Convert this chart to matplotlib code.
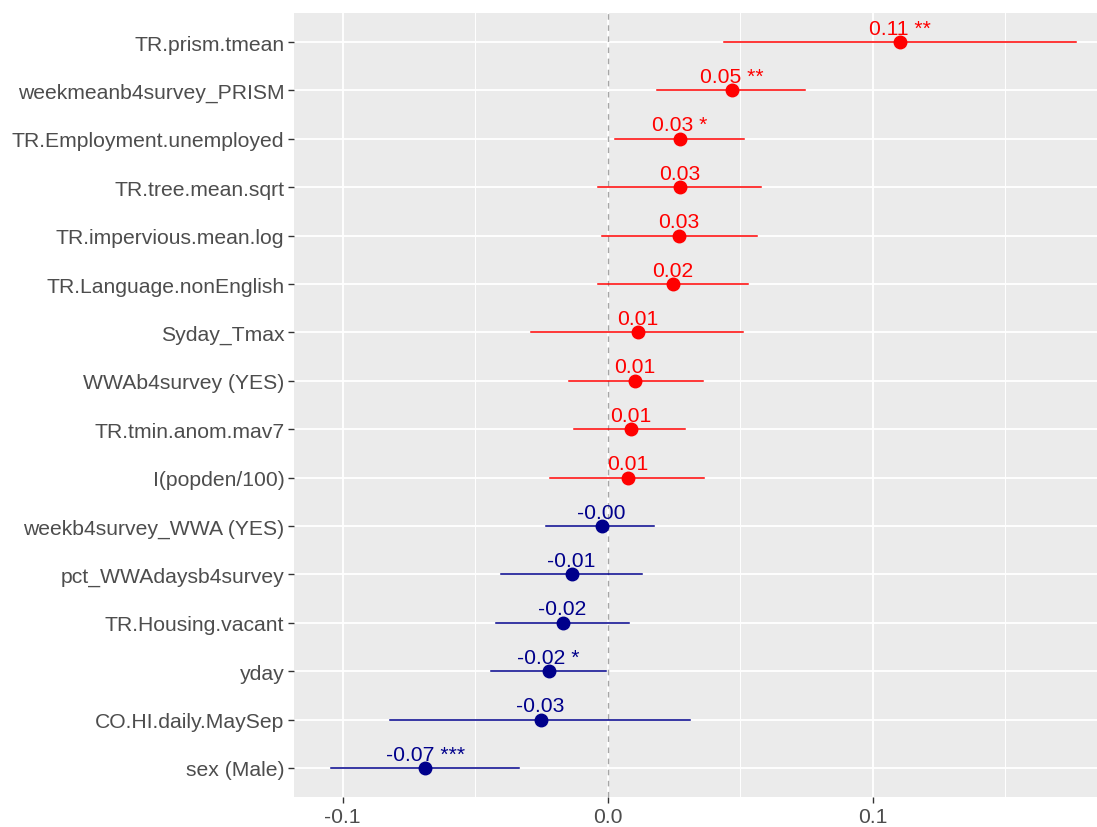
import numpy as np
import matplotlib.pyplot as plt
from matplotlib.ticker import MultipleLocator

plt.rcParams['font.family'] = ['Liberation Sans', 'DejaVu Sans']

# coefficient table, top row first
terms = ['TR.prism.tmean', 'weekmeanb4survey_PRISM', 'TR.Employment.unemployed',
         'TR.tree.mean.sqrt', 'TR.impervious.mean.log', 'TR.Language.nonEnglish',
         'Syday_Tmax', 'WWAb4survey (YES)', 'TR.tmin.anom.mav7', 'I(popden/100)',
         'weekb4survey_WWA (YES)', 'pct_WWAdaysb4survey', 'TR.Housing.vacant',
         'yday', 'CO.HI.daily.MaySep', 'sex (Male)']
estimate = [0.1104, 0.0469, 0.0272, 0.0272, 0.0268, 0.0246, 0.0113, 0.0102,
            0.0087, 0.0076, -0.0023, -0.0136, -0.0170, -0.0223, -0.0253, -0.0688]
conf_low = [0.0439, 0.0185, 0.0026, -0.0038, -0.0023, -0.0038, -0.0291, -0.0147,
            -0.0129, -0.0219, -0.0231, -0.0401, -0.0420, -0.0442, -0.0820, -0.1043]
conf_high = [0.1769, 0.0745, 0.0514, 0.0578, 0.0563, 0.0529, 0.0510, 0.0359,
             0.0291, 0.0363, 0.0174, 0.0129, 0.0079, -0.0008, 0.0310, -0.0333]
stars = ['**', '**', '*', '', '', '', '', '', '', '', '', '', '', '*', '', '***']

n = len(terms)
ypos = np.arange(n, 0, -1)

fig = plt.figure(figsize=(10.97, 8.28), dpi=100)
ax = fig.add_axes([294 / 1097, 30 / 828, 1 - 294 / 1097, 784 / 828])
ax.set_facecolor('#EBEBEB')
for s in ax.spines.values():
    s.set_visible(False)

ax.xaxis.set_major_locator(MultipleLocator(0.1))
ax.xaxis.set_minor_locator(MultipleLocator(0.05))
ax.grid(which='major', color='white', linewidth=1.3)
ax.grid(which='minor', axis='x', color='white', linewidth=0.7)
ax.set_axisbelow(True)

ax.axvline(0, color='#A6A6A6', linestyle=(0, (4, 4)), linewidth=1.0, zorder=1)

for i in range(n):
    col = 'red' if estimate[i] > 0 else '#00008B'
    y = ypos[i]
    ax.plot([conf_low[i], conf_high[i]], [y, y], color=col, linewidth=1.1, zorder=2)
    ax.plot(estimate[i], y, 'o', color=col, markersize=9, zorder=3)
    lab = f'{estimate[i]:.2f}'
    if stars[i]:
        lab += ' ' + stars[i]
    ax.annotate(lab, (estimate[i], y), xytext=(0, 6), textcoords='offset points',
                ha='center', va='baseline', color=col, fontsize=15.2)

ax.set_xlim(-0.1184, (1097 - 607) / 2653)
ax.set_ylim(0.4, n + 0.6)
ax.set_yticks(ypos)
ax.set_yticklabels(terms)
ax.set_xticks([-0.1, 0.0, 0.1])
ax.set_xticklabels(['-0.1', '0.0', '0.1'])
ax.tick_params(axis='both', which='major', colors='#333333', length=4, width=1,
               labelcolor='#4D4D4D', labelsize=15.2, pad=3)
ax.tick_params(axis='x', which='minor', length=0)

fig.savefig('out.png', dpi=100)
